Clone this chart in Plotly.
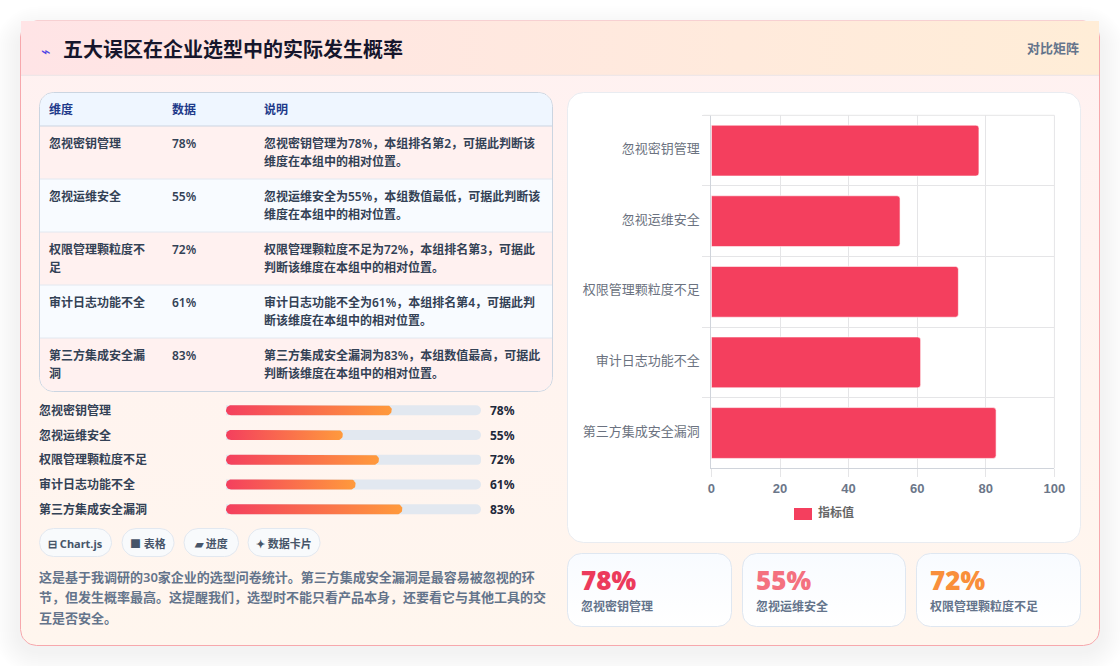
import math
import plotly.graph_objs as go

# data
names = ['忽视密钥管理', '忽视运维安全', '权限管理颗粒度不足', '审计日志功能不全', '第三方集成安全漏洞']
values = [78, 55, 72, 61, 83]
table_head = ['维度', '数据', '说明']
table_names = [['忽视密钥管理'], ['忽视运维安全'], ['权限管理颗粒度不', '足'], ['审计日志功能不全'], ['第三方集成安全漏', '洞']]
table_notes = [
	['忽视密钥管理为78%，本组排名第2，可据此判断该', '维度在本组中的相对位置。'],
	['忽视运维安全为55%，本组数值最低，可据此判断该', '维度在本组中的相对位置。'],
	['权限管理颗粒度不足为72%，本组排名第3，可据此', '判断该维度在本组中的相对位置。'],
	['审计日志功能不全为61%，本组排名第4，可据此判', '断该维度在本组中的相对位置。'],
	['第三方集成安全漏洞为83%，本组数值最高，可据此', '判断该维度在本组中的相对位置。'],
]
tags = ['⊟ Chart.js', '■ 表格', '▰ 进度', '✦ 数据卡片']
para = [
	'这是基于我调研的30家企业的选型问卷统计。第三方集成安全漏洞是最容易被忽视的环',
	'节，但发生概率最高。这提醒我们，选型时不能只看产品本身，还要看它与其他工具的交',
	'互是否安全。',
]
title = '五大误区在企业选型中的实际发生概率'
badge = '对比矩阵'
legend_name = '指标值'
stat_colors = ['#ec3b5c', '#f4717f', '#f98f3b']

W, H = 1120, 666
FONT = 'Noto Sans, Noto Sans CJK SC, sans-serif'
RED = '#f43f5e'
GRID = '#e5e5e7'
AXIS = '#d0d4db'

# plot boxes in page pixels
CHART = (711.4, 1054.4, 115.3, 468.3)
TRACK = (226, 481, 397.9, 521.6)
ROW_H = (TRACK[3] - TRACK[2]) / 5

traces = []
shapes = []
annotations = []


def rounded(x0, y0, x1, y1, rx, ry=None, corners=(1, 1, 1, 1)):
	# outline of a rounded box, corners are tl, tr, br, bl
	ry = rx if ry is None else ry
	xs, ys = [], []
	spots = [
		(x0 + rx, y0 + ry, 180, corners[0], x0, y0),
		(x1 - rx, y0 + ry, 270, corners[1], x1, y0),
		(x1 - rx, y1 - ry, 0, corners[2], x1, y1),
		(x0 + rx, y1 - ry, 90, corners[3], x0, y1),
	]
	for cx, cy, start, on, px, py in spots:
		if not on:
			xs.append(px)
			ys.append(py)
			continue
		for k in range(9):
			a = math.radians(start + k * 90 / 8)
			xs.append(cx + rx * math.cos(a))
			ys.append(cy + ry * math.sin(a))
	xs.append(xs[0])
	ys.append(ys[0])
	return xs, ys


def panel(x0, y0, x1, y1, r, fill=None, line=None, grad=None, corners=(1, 1, 1, 1), width=1):
	xs, ys = rounded(x0, y0, x1, y1, r, corners=corners)
	t = dict(x=xs, y=ys, mode='lines', fill='toself', hoverinfo='skip', showlegend=False,
		xaxis='x', yaxis='y', line=dict(color=line or 'rgba(0,0,0,0)', width=width if line else 0))
	if grad:
		# vertical gradients follow the data, and this y axis runs downwards
		ends = [grad[2], grad[1]] if grad[0] == 'vertical' else [grad[1], grad[2]]
		t['fillgradient'] = dict(type=grad[0], colorscale=[[0, ends[0]], [1, ends[1]]])
		t['fillcolor'] = grad[1]
	else:
		t['fillcolor'] = fill
	traces.append(go.Scatter(**t))


def text(x, y, s, size=12, color='#334155', anchor='left', weight=None, family=FONT):
	annotations.append(dict(x=x, y=y, xref='x', yref='y', text=s, showarrow=False, xanchor=anchor,
		yanchor='middle', borderpad=0, borderwidth=0,
		font=dict(family=family, size=size, color=color, weight=weight)))


def hline(x0, y0, x1, y1, color):
	shapes.append(dict(type='line', x0=x0, x1=x1, y0=y0, y1=y1, xref='x', yref='y', layer='above',
		line=dict(color=color, width=1)))


# soft shadow of the card
for i in range(12):
	grow = 26 - i * 2
	xs, ys = rounded(20 - grow, 32 - grow, 1100 + grow, 650 + grow, 18 + grow)
	path = 'M' + 'L'.join('%.1f,%.1f' % p for p in zip(xs, ys)) + 'Z'
	shapes.append(dict(type='path', path=path, xref='x', yref='y', layer='below',
		fillcolor='rgba(15,23,42,0.0055)', line=dict(width=0)))

# card and header
panel(20.5, 21, 1099.5, 645.5, 16, line='#f7a8ad', grad=('vertical', '#fff1f1', '#fff6ee'))
panel(21, 21, 1099, 75, 0, grad=('horizontal', '#ffe4e6', '#ffedd7'))
traces.append(go.Scatter(x=[21, 1099], y=[75.3, 75.3], mode='lines', line=dict(color='#ece4e6', width=1),
	hoverinfo='skip', showlegend=False, xaxis='x', yaxis='y'))
text(41, 51, '⌁', 16, '#4f46e5', weight=400)
text(62.5, 49.5, title, 20, '#16162c', weight=700)
text(1079, 48, badge, 13, '#64748b', 'right', weight=600)

# table
ROWS = [126, 179, 232, 285, 338, 391]
panel(39.5, 92.5, 552.5, 391.5, 14, fill='#ffffff', line='#cbd5e1')
panel(40, 93, 552, 126, 13.5, fill='#eff6ff', corners=(1, 1, 0, 0))
for i in range(5):
	last = i == 4
	panel(40, ROWS[i], 552, ROWS[i + 1], 13.5 if last else 0, fill='#fff1f0' if i % 2 == 0 else '#f8fbff',
		corners=(0, 0, 1, 1) if last else (1, 1, 1, 1))
for y in ROWS[:-1]:
	traces.append(go.Scatter(x=[40, 552], y=[y, y], mode='lines', hoverinfo='skip', showlegend=False,
		line=dict(color='#cbd5e1' if y == 126 else '#e2e8f0', width=1), xaxis='x', yaxis='y'))
COLS = [49, 172, 264]
for c, h in zip(COLS, table_head):
	text(c, 109.5, h, 12, '#1e3a8a', weight=600)
for i in range(5):
	top = ROWS[i] + 17.5
	for k, s in enumerate(table_names[i]):
		text(COLS[0], top + k * 17.6, s, 12, '#334155', weight=600)
	text(COLS[1], top, '%d%%' % values[i], 12, '#334155', weight=600)
	for k, s in enumerate(table_notes[i]):
		text(COLS[2], top + k * 17.6, s, 12, '#334155', weight=600)

# progress rows
for i, n in enumerate(names):
	y = TRACK[2] + ROW_H * (i + 0.5)
	text(39, y, n, 12, '#334155', weight=600)
	text(490, y, '%d%%' % values[i], 12, '#1e293b', weight=700)

# pills under the rows
PILLS = [(39, 112), (121.5, 174.5), (183.5, 239), (247.5, 320.5)]
for (a, b), s in zip(PILLS, tags):
	panel(a + 0.5, 528.5, b - 0.5, 556.5, 14, fill='#f8fafc', line='#e2e8f0')
	text((a + b) / 2, 543, s, 11, '#475569', 'center', weight=700)

for k, s in enumerate(para):
	text(39, 577 + k * 20.4, s, 13, '#64748b', weight=600)

# chart panel and stat cards
panel(567.5, 92.5, 1080.5, 542.5, 16, fill='#ffffff', line='#e9ecf1')
STATS = [(567.5, 731.5), (742.5, 905.5), (916.5, 1080.5)]
for i, (a, b) in enumerate(STATS):
	panel(a, 553.5, b, 626.5, 14, line='#dfe7f1', grad=('vertical', '#f8fbff', '#ffffff'))
	text(a + 13.5, 580, '%d%%' % values[i], 26, stat_colors[i], weight=900)
	text(a + 13.5, 606.7, names[i], 12, '#64748b', weight=600)

# frame lines of the bar chart that the axes do not draw
hline(CHART[0] - 8, CHART[2], CHART[1], CHART[2], GRID)
hline(CHART[1], CHART[2], CHART[1], CHART[3], GRID)

shapes.append(dict(type='rect', x0=794, x1=812, y0=508, y1=520, xref='x', yref='y', fillcolor=RED,
	line=dict(width=0), layer='above'))
text(818, 512.5, legend_name, 12, '#666666', weight=600)

# main horizontal bars
traces.append(go.Bar(x=values, y=names, orientation='h',
	marker=dict(color=RED, cornerradius=3, line=dict(width=1, color='rgba(255,255,255,0.6)')),
	xaxis='x2', yaxis='y2', showlegend=False, name=legend_name))

# progress tracks, full width of the axis
order = list(range(len(names)))
traces.append(go.Bar(x=[120] * 5, y=order, orientation='h', marker=dict(color='#e2e8f0', cornerradius=5, line=dict(width=0)),
	width=10 / ROW_H, xaxis='x3', yaxis='y3', showlegend=False, hoverinfo='skip'))
px_x = 120 / (TRACK[1] - TRACK[0])
px_y = 1 / ROW_H
for i, v in enumerate(values):
	xs, ys = rounded(0, i - 5 * px_y, v, i + 5 * px_y, 5 * px_x, 5 * px_y)
	traces.append(go.Scatter(x=xs, y=ys, mode='lines', fill='toself', line=dict(width=0), hoverinfo='skip',
		showlegend=False, xaxis='x3', yaxis='y3', fillcolor=RED,
		fillgradient=dict(type='horizontal', colorscale=[[0, RED], [1, '#ff9a3c']])))

hidden = dict(visible=False, fixedrange=True)
layout = go.Layout(
	width=W, height=H, margin=dict(l=0, r=0, t=0, b=0, pad=0, autoexpand=False), paper_bgcolor='#ffffff', plot_bgcolor='rgba(0,0,0,0)',
	font=dict(family=FONT), showlegend=False, barmode='overlay', shapes=shapes, annotations=annotations,
	xaxis=dict(domain=[0, 1], range=[0, W], **hidden),
	yaxis=dict(domain=[0, 1], range=[H, 0], **hidden),
	xaxis2=dict(domain=[CHART[0] / W, CHART[1] / W], range=[0, 100], dtick=20, anchor='y2', showgrid=True, gridcolor=GRID,
		gridwidth=1, zeroline=False, showline=True, linecolor=AXIS, ticks='outside', ticklen=8, tickcolor=GRID,
		tickfont=dict(family='Liberation Sans', size=13, color='#6b7689', weight=700), fixedrange=True),
	yaxis2=dict(domain=[1 - CHART[3] / H, 1 - CHART[2] / H], anchor='x2', type='category', autorange='reversed', tickson='boundaries',
		showgrid=True, gridcolor=GRID, gridwidth=1, zeroline=False, showline=True, linecolor=AXIS, ticks='outside',
		ticklen=8, tickcolor=GRID, ticklabelstandoff=8, ticklabelshift=2, tickfont=dict(family=FONT, size=13, color='#6b7280'), fixedrange=True),
	bargap=0.28,
	xaxis3=dict(domain=[TRACK[0] / W, TRACK[1] / W], range=[0, 120], anchor='y3', **hidden),
	yaxis3=dict(domain=[1 - TRACK[3] / H, 1 - TRACK[2] / H], range=[4.5, -0.5], anchor='x3', **hidden),
)
fig = go.Figure(data=traces, layout=layout)
fig.write_html('out.html', config=dict(displayModeBar=False),
	post_script="document.body.style.margin='0';document.body.style.overflow='hidden';")
